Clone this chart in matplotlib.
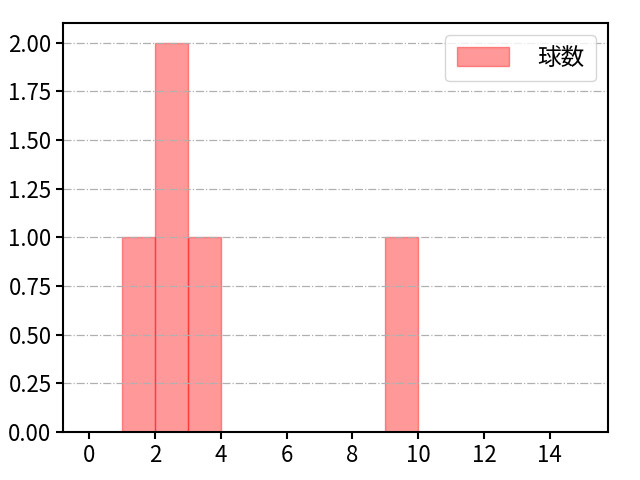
import matplotlib
matplotlib.use("Agg")
import matplotlib.pyplot as plt

plt.rcParams['font.family'] = ['Noto Sans CJK JP', 'DejaVu Sans']
plt.rcParams['font.size'] = 16

# pitch counts per plate appearance
pitches = [1, 2, 2, 3, 9]
bins = list(range(0, 17))
label = '球数'
yticks = [0, 0.25, 0.5, 0.75, 1.0, 1.25, 1.5, 1.75, 2.0]

fig, ax = plt.subplots(figsize=(6.4, 4.8), dpi=100)
ax.hist(pitches, bins=bins, color='red', alpha=0.4, edgecolor='red', linewidth=1, label=label)
ax.grid(axis='y', linestyle='-.', color='#b0b0b0', linewidth=0.9)
ax.set_xlim(-0.79, 15.77)
ax.set_ylim(0, 2.1)
ax.set_xticks(range(0, 16, 2))
ax.set_yticks(yticks)
ax.set_yticklabels([f'{v:.2f}' for v in yticks])
ax.tick_params(labelsize=16, width=1.5, length=5)
for s in ax.spines.values():
    s.set_linewidth(1.5)
ax.legend(loc='upper right', fontsize=17, handlelength=2.2, handleheight=0.85,
          handletextpad=1.2, borderpad=0.5)
fig.subplots_adjust(left=0.099, right=0.95, top=0.952, bottom=0.1)
fig.savefig('out.png', dpi=100)
